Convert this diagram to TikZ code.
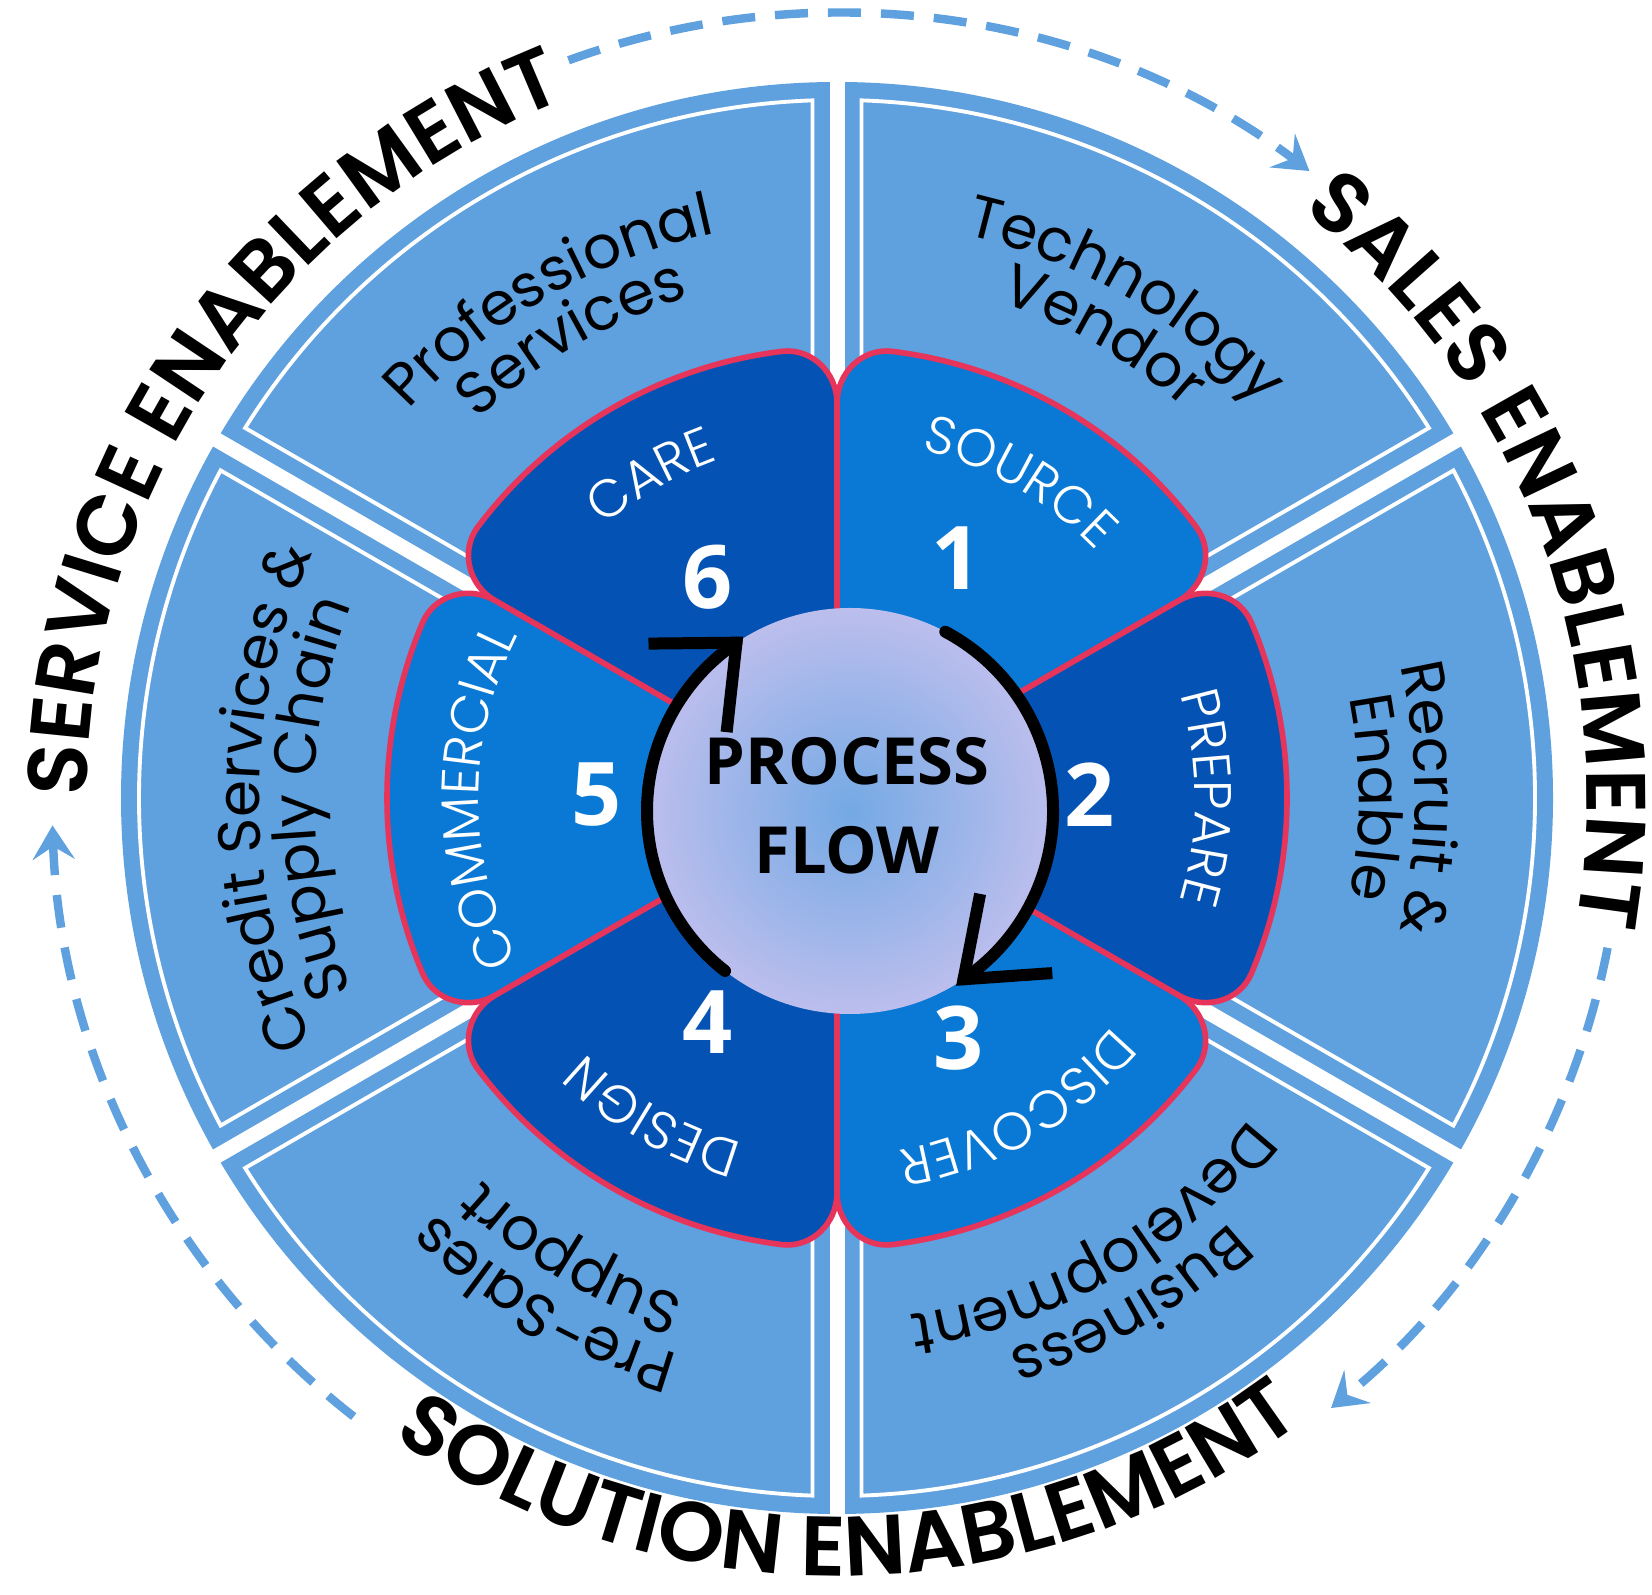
\documentclass[tikz,border=0pt]{standalone}
\usepackage{fontspec}
\setmainfont{Poppins}
\newfontfamily\boldsans{Open Sans}
\IfFontExistsTF{Poppins Light}{\newfontfamily\thinsans{Poppins Light}}{\newfontfamily\thinsans{Poppins}}
\IfFontExistsTF{Poppins SemiBold}{\newfontfamily\capsfont{Poppins SemiBold}}{\newcommand\capsfont{\bfseries}}
\usetikzlibrary{arrows.meta,decorations.text,calc}

\definecolor{ringblue}{HTML}{5FA0DE}
\definecolor{petaldark}{HTML}{0453B4}
\definecolor{petallight}{HTML}{0979D5}
\definecolor{petalred}{HTML}{E6345A}
\definecolor{flowmid}{HTML}{74A9E4}
\definecolor{flowedge}{HTML}{D3C5F0}
\pgfdeclareradialshading{flowshade}{\pgfpoint{0cm}{0cm}}{color(0bp)=(flowmid); color(33bp)=(flowedge); color(50bp)=(flowedge)}

% text on an arc: radius, start angle, end angle, format, text
\newcommand{\arclabel}[5]{%
  \path[decorate, decoration={text along path, text align=center, text={|#4|#5}}]
    (#2:#1) arc[start angle=#2, end angle=#3, radius=#1];}

\begin{document}
\begin{tikzpicture}[
  petal/.style={draw=petalred, line width=1.6pt, line join=round},
  gapline/.style={white, line width=1.5mm},
  innerline/.style={white, line width=1.1pt},
  dashring/.style={ringblue, line width=2.4pt, dash pattern=on 3.3mm off 2mm,
    -{Stealth[length=3.4mm, width=4.2mm, inset=1.3mm]}},
  cyclearrow/.style={line width=1.2mm},
  stepnum/.style={text=white, font=\boldsans\bfseries\fontsize{25}{25}\selectfont, inner sep=0pt},
]
\useasboundingbox (0,0) rectangle (16.52,15.94);
\fill[white] (0,0) rectangle (16.52,15.94);

\begin{scope}[shift={(8.37,7.96)}]
% outer ring of six sectors
\fill[ringblue] (0,0) circle[radius=7.16];
\foreach \a in {30,90,...,330}
  \draw[gapline] (0,0) -- (\a:7.3);
\foreach \a in {30,90,...,330}
  \draw[innerline] ($(\a:3.5)+({\a+90}:0.245)$) -- ($(\a:6.976)+({\a+90}:0.245)$)
    arc[start angle=\a+2.01, end angle=\a+57.99, radius=6.98]
    -- ($({\a+60}:3.5)+({\a-30}:0.245)$);

% sector labels
\arclabel{5.78}{160}{80}{\fontsize{17}{17}\selectfont}{Professional}
\arclabel{5.22}{160}{80}{\fontsize{17}{17}\selectfont}{Services}
\arclabel{5.78}{100}{20}{\fontsize{17}{17}\selectfont}{Technology}
\arclabel{5.22}{100}{20}{\fontsize{17}{17}\selectfont}{Vendor}
\arclabel{5.78}{40}{-40}{\fontsize{17}{17}\selectfont}{Recruit {\&}}
\arclabel{5.22}{40}{-40}{\fontsize{17}{17}\selectfont}{Enable}
\arclabel{5.78}{-20}{-100}{\fontsize{17}{17}\selectfont}{Business}
\arclabel{5.22}{-20}{-100}{\fontsize{17}{17}\selectfont}{Development}
\arclabel{5.78}{280}{200}{\fontsize{17}{17}\selectfont}{Pre-Sales}
\arclabel{5.22}{280}{200}{\fontsize{17}{17}\selectfont}{Support}
\arclabel{5.78}{220}{140}{\fontsize{17}{17}\selectfont}{Credit Services {\&}}
\arclabel{5.22}{220}{140}{\fontsize{17}{17}\selectfont}{Supply Chain}

% petals
\foreach \a/\col in {30/petallight,90/petaldark,150/petallight,210/petaldark,270/petallight,330/petaldark}
  \path[petal, fill=\col] (0,0) -- (\a:3.95)
    .. controls (\a:4.25) and ($(\a:4.5)+({\a+90}:0.25)$) .. ({\a+7}:4.5)
    arc[start angle=\a+7, end angle=\a+53, radius=4.5]
    .. controls ($({\a+60}:4.5)+({\a-30}:0.25)$) and ({\a+60}:4.25) .. ({\a+60}:3.95) -- cycle;

% petal labels
\arclabel{3.58}{90}{30}{\thinsans\fontsize{15}{15}\selectfont\color{white}}{SOURCE}
\arclabel{3.58}{30}{-30}{\thinsans\fontsize{15}{15}\selectfont\color{white}}{PREPARE}
\arclabel{3.58}{-30}{-90}{\thinsans\fontsize{15}{15}\selectfont\color{white}}{DISCOVER}
\arclabel{3.58}{270}{210}{\thinsans\fontsize{15}{15}\selectfont\color{white}}{DESIGN}
\arclabel{3.58}{210}{150}{\thinsans\fontsize{15}{15}\selectfont\color{white}}{COMMERCIAL}
\arclabel{3.58}{150}{90}{\thinsans\fontsize{15}{15}\selectfont\color{white}}{CARE}

% enablement labels and dashed arrows
\arclabel{7.5}{200.5}{90.5}{\capsfont\fontsize{24}{24}\selectfont}{SERVICE ENABLEMENT}
\arclabel{7.5}{61}{-19}{\capsfont\fontsize{24}{24}\selectfont}{SALES ENABLEMENT}
\arclabel{7.78}{226}{316}{\capsfont\fontsize{24}{24}\selectfont}{SOLUTION ENABLEMENT}
\draw[dashring] (110:7.85) arc[start angle=110, end angle=53, radius=7.85];
\draw[dashring] (-11:7.85) arc[start angle=-11, end angle=-51, radius=7.85];
\draw[dashring] (232:7.85) arc[start angle=232, end angle=182, radius=7.85];
\end{scope}

% step numbers
\node[stepnum] (n1) at (9.57,10.36) {1};
\node[stepnum] (n2) at (10.90,7.99) {2};
\node[stepnum] (n3) at (9.59,5.56) {3};
\node[stepnum] (n4) at (7.08,5.72) {4};
\node[stepnum] (n5) at (5.97,7.99) {5};
\node[stepnum] (n6) at (7.08,10.17) {6};

% centre
\node[circle, minimum size=4.06cm, inner sep=0pt, outer sep=0pt, shading=flowshade] (flow) at (8.50,7.83) {};
\node[font=\boldsans\bfseries\fontsize{18.5}{25.3}\selectfont, align=center, inner sep=0pt] (flowtext) at (8.47,7.88) {PROCESS\\FLOW};

\draw[cyclearrow, line cap=round] (flow.62) arc[start angle=62, end angle=-56, radius=2.03] coordinate (tipright);
\draw[cyclearrow, line join=miter] ($(tipright)+(79:0.87)$) -- (tipright) -- ($(tipright)+(4:0.89)$);
\draw[cyclearrow, line cap=round] (flow.232) arc[start angle=232, end angle=124, radius=2.03] coordinate (tipleft);
\draw[cyclearrow, line join=miter] ($(tipleft)+(180.6:0.88)$) -- (tipleft) -- ($(tipleft)+(263.7:0.9)$);
\end{tikzpicture}
\end{document}
